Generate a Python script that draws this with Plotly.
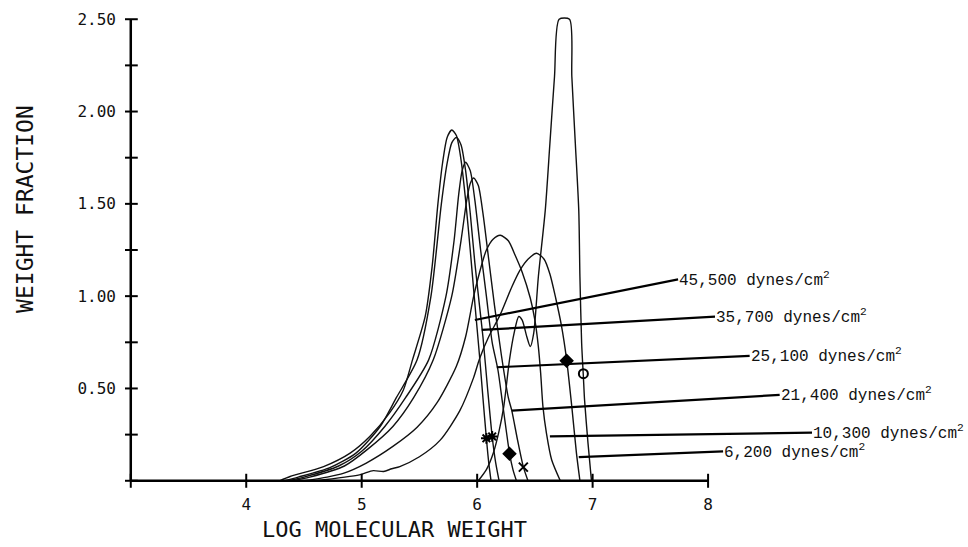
import plotly.graph_objects as go

# ---- data ----
# Molecular weight distributions (log MW vs weight fraction)
a_x = [4.29, 4.38, 4.67, 4.90, 5.07, 5.24, 5.36, 5.44, 5.55, 5.61, 5.66, 5.70, 5.74, 5.78,
       5.82, 5.86, 5.90, 5.94, 5.98, 6.02, 6.05, 6.08, 6.10, 6.12]
a_y = [0.0, 0.023, 0.077, 0.15, 0.24, 0.366, 0.49, 0.655, 0.89, 1.16, 1.50, 1.72, 1.86, 1.90,
       1.87, 1.74, 1.52, 1.25, 0.96, 0.68, 0.45, 0.23, 0.10, 0.0]

b_x = [4.33, 4.45, 4.72, 4.95, 5.16, 5.30, 5.48, 5.60, 5.69, 5.74, 5.78, 5.82,
       5.86, 5.90, 5.94, 5.98, 6.02, 6.05, 6.09, 6.13, 6.16, 6.19]
b_y = [0.0, 0.02, 0.07, 0.15, 0.294, 0.45, 0.655, 1.0, 1.5, 1.72, 1.83, 1.86,
       1.82, 1.68, 1.45, 1.18, 0.95, 0.78, 0.50, 0.24, 0.10, 0.0]

c_x = [4.36, 4.50, 4.80, 5.00, 5.20, 5.38, 5.58, 5.73, 5.80, 5.84, 5.87, 5.90,
       5.94, 5.98, 6.03, 6.08, 6.13, 6.18, 6.22, 6.28, 6.31, 6.34]
c_y = [0.0, 0.02, 0.08, 0.16, 0.294, 0.45, 0.655, 1.0, 1.30, 1.55, 1.68, 1.725,
       1.68, 1.52, 1.25, 1.0, 0.75, 0.60, 0.42, 0.15, 0.06, 0.0]

d_x = [4.40, 4.55, 4.85, 5.05, 5.27, 5.45, 5.62, 5.78, 5.86, 5.91, 5.94, 5.97,
       6.01, 6.05, 6.10, 6.15, 6.21, 6.27, 6.30, 6.35, 6.40, 6.44]
d_y = [0.0, 0.02, 0.08, 0.17, 0.294, 0.45, 0.655, 1.0, 1.30, 1.52, 1.61, 1.64,
       1.60, 1.45, 1.20, 0.95, 0.68, 0.45, 0.38, 0.22, 0.075, 0.0]

e_x = [4.50, 4.70, 4.84, 5.04, 5.27, 5.48, 5.65, 5.82, 5.90, 5.97, 6.03, 6.08, 6.14, 6.20,
       6.27, 6.33, 6.39, 6.46, 6.50, 6.53, 6.55, 6.57, 6.60, 6.645, 6.72]
e_y = [0.0, 0.02, 0.04, 0.096, 0.186, 0.29, 0.42, 0.62, 0.78, 1.0, 1.15, 1.25, 1.31, 1.33,
       1.30, 1.22, 1.13, 0.99, 0.87, 0.727, 0.583, 0.40, 0.258, 0.114, 0.0]

f_x = [4.60, 4.98, 5.10, 5.19, 5.26, 5.33, 5.50, 5.68, 5.85, 5.97, 6.02, 6.10, 6.20, 6.30,
       6.37, 6.44, 6.515, 6.58, 6.63, 6.68, 6.73, 6.775, 6.82, 6.86, 6.89]
f_y = [0.0, 0.032, 0.055, 0.05, 0.065, 0.077, 0.13, 0.22, 0.38, 0.56, 0.66, 0.78, 0.90, 1.05,
       1.14, 1.20, 1.232, 1.20, 1.12, 0.99, 0.84, 0.655, 0.40, 0.15, 0.0]

g_x = [6.01, 6.08, 6.14, 6.19, 6.23, 6.28, 6.32, 6.36, 6.39, 6.43, 6.46, 6.49, 6.53, 6.59,
       6.63, 6.67, 6.71, 6.80, 6.82, 6.85, 6.88, 6.89, 6.905, 6.92, 6.93, 6.96, 6.99]
g_y = [0.0, 0.06, 0.15, 0.27, 0.40, 0.655, 0.80, 0.89, 0.87, 0.78, 0.727, 0.80, 1.105, 1.466,
       1.827, 2.19, 2.50, 2.50, 2.19, 1.83, 1.466, 1.105, 0.745, 0.564, 0.44, 0.204, 0.0]

curves = [(a_x, a_y), (b_x, b_y), (c_x, c_y), (d_x, d_y), (e_x, e_y), (f_x, f_y), (g_x, g_y)]

# point markers on the curves
mark_x = [6.08, 6.13, 6.28, 6.40, 6.775, 6.92]
mark_y = [0.23, 0.24, 0.146, 0.074, 0.65, 0.58]
mark_sym = ["asterisk-open", "asterisk-open", "diamond", "x-thin-open", "diamond", "circle-open"]

# labels with leader lines
labels = ["45,500 dynes/cm<sup>2</sup>", "35,700 dynes/cm<sup>2</sup>",
          "25,100 dynes/cm<sup>2</sup>", "21,400 dynes/cm<sup>2</sup>",
          "10,300 dynes/cm<sup>2</sup>", "6,200 dynes/cm<sup>2</sup>"]
lead_x0 = [5.98, 6.04, 6.17, 6.30, 6.63, 6.88]
lead_y0 = [0.871, 0.817, 0.615, 0.380, 0.240, 0.128]
lead_x1 = [7.74, 8.06, 8.36, 8.62, 8.90, 8.13]
lead_y1 = [1.091, 0.889, 0.676, 0.465, 0.261, 0.159]

# axes
x_ticks = [4, 5, 6, 7, 8]
x_ticktext = ["4", "5", "6", "7", "8"]
x_min, x_max = 3, 8
y_ticks = [0.5, 1.0, 1.5, 2.0, 2.5]
y_ticktext = ["0.50", "1.00", "1.50", "2.00", "2.50"]
y_minor = [0, 0.25, 0.5, 0.75, 1.0, 1.25, 1.5, 1.75, 2.0, 2.25, 2.5]
y_min, y_max = 0, 2.5

fig = go.Figure()

for cx, cy in curves:
    fig.add_trace(go.Scatter(x=cx, y=cy, mode="lines",
                             line=dict(color="#111111", width=1.4, shape="spline", smoothing=0.7),
                             hoverinfo="skip", showlegend=False))

for i in range(len(labels)):
    fig.add_trace(go.Scatter(x=[lead_x0[i], lead_x1[i]], y=[lead_y0[i], lead_y1[i]], mode="lines",
                             line=dict(color="black", width=2.2), hoverinfo="skip", showlegend=False))
    fig.add_annotation(x=lead_x1[i], y=lead_y1[i], xref="x", yref="y", text=labels[i],
                       showarrow=False, xanchor="left", yanchor="middle", xshift=-1,
                       font=dict(family="Liberation Mono", size=16, color="#111"))

fig.add_trace(go.Scatter(x=mark_x, y=mark_y, mode="markers",
                         marker=dict(symbol=mark_sym, size=9, color="black",
                                     line=dict(color="black", width=2)),
                         hoverinfo="skip", showlegend=False))

# axis lines
fig.add_trace(go.Scatter(x=[x_min, x_max], y=[0, 0], mode="lines",
                         line=dict(color="black", width=2.5), hoverinfo="skip", showlegend=False))
fig.add_trace(go.Scatter(x=[x_min, x_min], y=[y_min, y_max], mode="lines",
                         line=dict(color="black", width=2.5), hoverinfo="skip", showlegend=False))
# crossing tick marks
fig.add_trace(go.Scatter(x=[x_min] + x_ticks, y=[0] * (len(x_ticks) + 1), mode="markers",
                         marker=dict(symbol="line-ns", size=10, line=dict(color="black", width=2)),
                         hoverinfo="skip", showlegend=False))
fig.add_trace(go.Scatter(x=[x_min] * len(y_minor), y=y_minor, mode="markers",
                         marker=dict(symbol="line-ew", size=10, line=dict(color="black", width=2)),
                         hoverinfo="skip", showlegend=False))

fig.add_annotation(text="WEIGHT FRACTION", xref="paper", yref="paper", x=-0.122, y=0.585,
                   textangle=-90, showarrow=False, xanchor="center", yanchor="middle",
                   font=dict(family="DejaVu Sans Mono", size=23, color="#111"))
fig.add_annotation(text="LOG MOLECULAR WEIGHT", xref="paper", yref="paper", x=0.331, y=-0.083,
                   showarrow=False, xanchor="center", yanchor="middle",
                   font=dict(family="DejaVu Sans Mono", size=22, color="#111"))

fig.update_layout(
    width=968, height=547,
    margin=dict(l=125, r=29, t=10, b=57),
    paper_bgcolor="white", plot_bgcolor="white",
    showlegend=False,
    xaxis=dict(range=[2.95, 10.0], tickvals=x_ticks, ticktext=x_ticktext, ticks="",
               showgrid=False, zeroline=False, showline=False, ticklabelstandoff=3,
               tickfont=dict(family="DejaVu Sans Mono", size=16, color="#111")),
    yaxis=dict(range=[-0.05, 2.55], tickvals=y_ticks, ticktext=y_ticktext, ticks="",
               showgrid=False, zeroline=False, showline=False, ticklabelstandoff=8,
               tickfont=dict(family="DejaVu Sans Mono", size=16, color="#111")),
)

fig.write_html("out.html")
